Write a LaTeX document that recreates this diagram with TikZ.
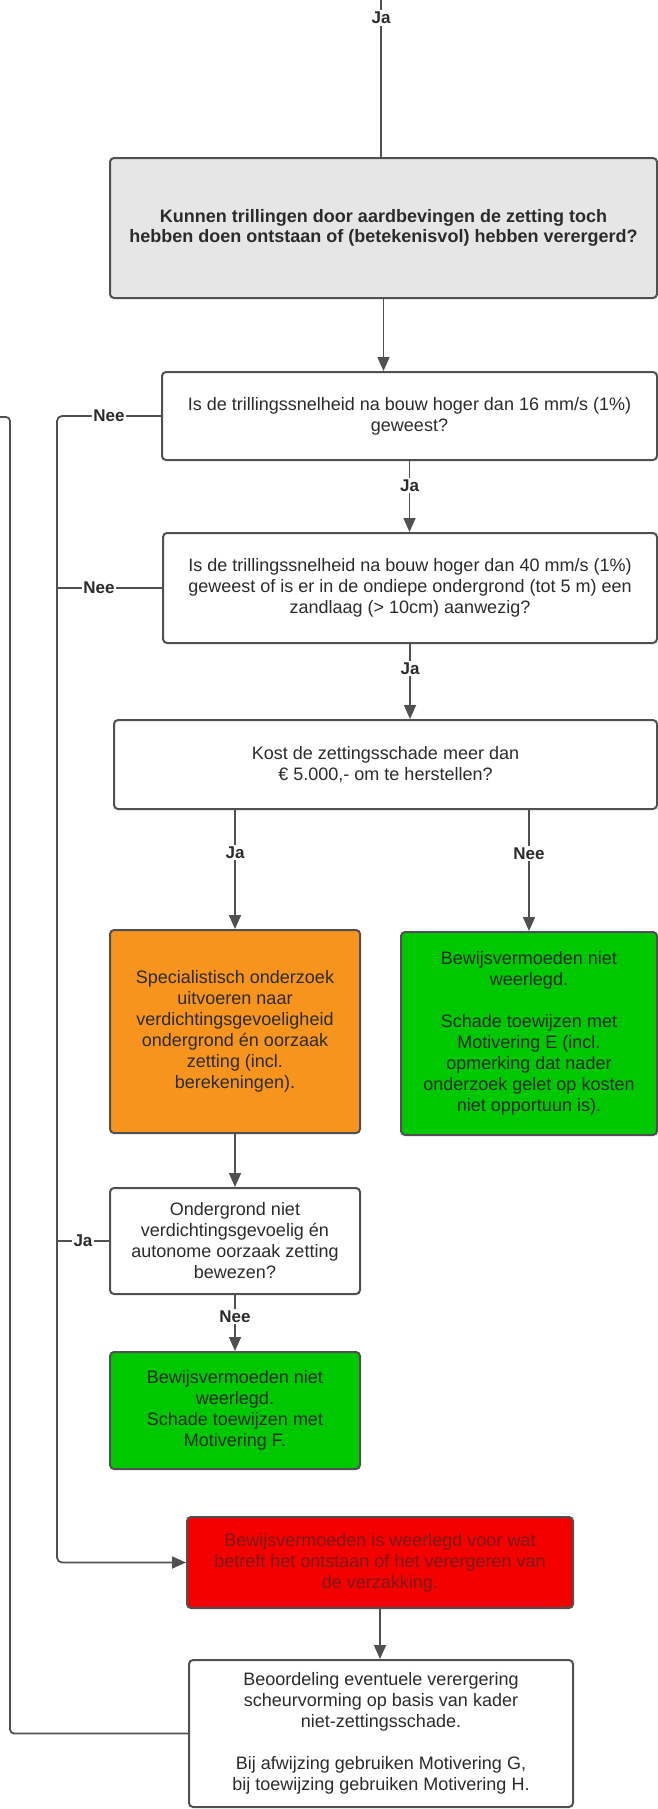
\documentclass[tikz,border=0pt]{standalone}
\usepackage{fontspec}
\setmainfont{Liberation Sans}
\usetikzlibrary{arrows.meta}
\definecolor{ln}{HTML}{505050}
\definecolor{txt}{HTML}{2B2B2B}
\definecolor{grayfill}{HTML}{E6E6E6}
\definecolor{orangefill}{HTML}{F7941E}
\definecolor{greenfill}{HTML}{00C800}
\definecolor{redfill}{HTML}{F50000}
\definecolor{redtxt}{HTML}{7A1A1A}
\begin{document}
\begin{tikzpicture}[x=1pt,y=-1pt,
  box/.style={draw=ln, line width=2pt, rounded corners=4pt, align=center, inner sep=0pt,
    font=\fontsize{18}{21}\selectfont, text=txt},
  arr/.style={draw=ln, line width=1.8pt, -{Triangle[length=14pt,width=12pt]}},
  con/.style={draw=ln, line width=1.8pt},
  lbl/.style={fill=white, inner sep=1.5pt, font=\bfseries\fontsize{17}{20}\selectfont, text=txt}]
\useasboundingbox (0,0) rectangle (658,1809);

% boxes
\node[box, fill=grayfill, minimum width=547pt, minimum height=140pt,
  font=\bfseries\fontsize{18}{20}\selectfont] (g) at (383.5,228)
  {Kunnen trillingen door aardbevingen de zetting toch\\hebben doen ontstaan of (betekenisvol) hebben verergerd?};
\node[box, fill=white, minimum width=495pt, minimum height=88pt] (q1) at (409.5,416)
  {Is de trillingssnelheid na bouw hoger dan 16 mm/s (1\%)\\geweest?};
\node[box, fill=white, minimum width=494pt, minimum height=110pt] (q2) at (410,588)
  {Is de trillingssnelheid na bouw hoger dan 40 mm/s (1\%)\\geweest of is er in de ondiepe ondergrond (tot 5 m) een\\zandlaag (> 10cm) aanwezig?};
\node[box, fill=white, minimum width=543pt, minimum height=89pt] (q3) at (385.5,764.5)
  {Kost de zettingsschade meer dan\\€ 5.000,- om te herstellen?};
\node[box, fill=orangefill, minimum width=250pt, minimum height=203pt] (or) at (235,1031.5)
  {Specialistisch onderzoek\\uitvoeren naar\\verdichtingsgevoeligheid\\ondergrond én oorzaak\\zetting (incl.\\berekeningen).};
\node[box, fill=greenfill, minimum width=256pt, minimum height=203pt] (ga) at (529,1033.5)
  {Bewijsvermoeden niet\\weerlegd.\\[21pt]Schade toewijzen met\\Motivering E (incl.\\opmerking dat nader\\onderzoek gelet op kosten\\niet opportuun is).};
\node[box, fill=white, minimum width=250pt, minimum height=106pt] (q4) at (235,1241)
  {Ondergrond niet\\verdichtingsgevoelig én\\autonome oorzaak zetting\\bewezen?};
\node[box, fill=greenfill, minimum width=250pt, minimum height=117pt] (gb) at (235,1410.5)
  {Bewijsvermoeden niet\\weerlegd.\\Schade toewijzen met\\Motivering F.};
\node[box, fill=redfill, text=redtxt, minimum width=386pt, minimum height=91pt] (rd) at (380,1562.5)
  {Bewijsvermoeden is weerlegd voor wat\\betreft het ontstaan of het verergeren van\\de verzakking.};
\node[box, fill=white, minimum width=384pt, minimum height=147pt] (fn) at (381,1733.5)
  {Beoordeling eventuele verergering\\scheurvorming op basis van kader\\niet-zettingsschade.\\[21pt]Bij afwijzing gebruiken Motivering G,\\bij toewijzing gebruiken Motivering H.};

% top entry
\coordinate (topin) at (381,0);
\node[lbl] (ja0) at (381,18) {Ja};
\draw[con] (topin) -- (ja0.north);
\draw[con] (ja0.south) -- (ja0.south |- g.north);

% main connectors
\draw[arr] (g.south) -- (g.south |- q1.north);
\draw[arr] (q1.south) -- node[lbl, pos=0.35] {Ja} (q1.south |- q2.north);
\draw[arr] (q2.south) -- node[lbl, pos=0.33] {Ja} (q2.south |- q3.north);
\draw[arr] (or.north |- q3.south) -- node[lbl, pos=0.36] {Ja} (or.north);
\draw[arr] (ga.north |- q3.south) -- node[lbl, pos=0.36] {Nee} (ga.north);
\draw[arr] (or.south) -- (q4.north);
\draw[arr] (q4.south) -- node[lbl, pos=0.38] {Nee} (gb.north);
\draw[arr] (rd.south) -- (rd.south |- fn.north);

% left trunk
\coordinate (tk) at (57,416);
\draw[arr, rounded corners=5pt] (q1.west) -- node[lbl, pos=0.5] {Nee} (q1.west -| tk)
  -- (tk |- rd.west) -- (rd.west);
\draw[con] (q2.west) -- node[lbl, pos=0.6] {Nee} (q2.west -| tk);
\draw[con] (q4.west) -- node[lbl, pos=0.5] {Ja} (q4.west -| tk);

% outer line
\coordinate (ot) at (10,417);
\coordinate (oe) at (0,417);
\draw[con, rounded corners=4pt] (fn.west) -- (fn.west -| ot) -- (ot) -- (oe);
\end{tikzpicture}
\end{document}
